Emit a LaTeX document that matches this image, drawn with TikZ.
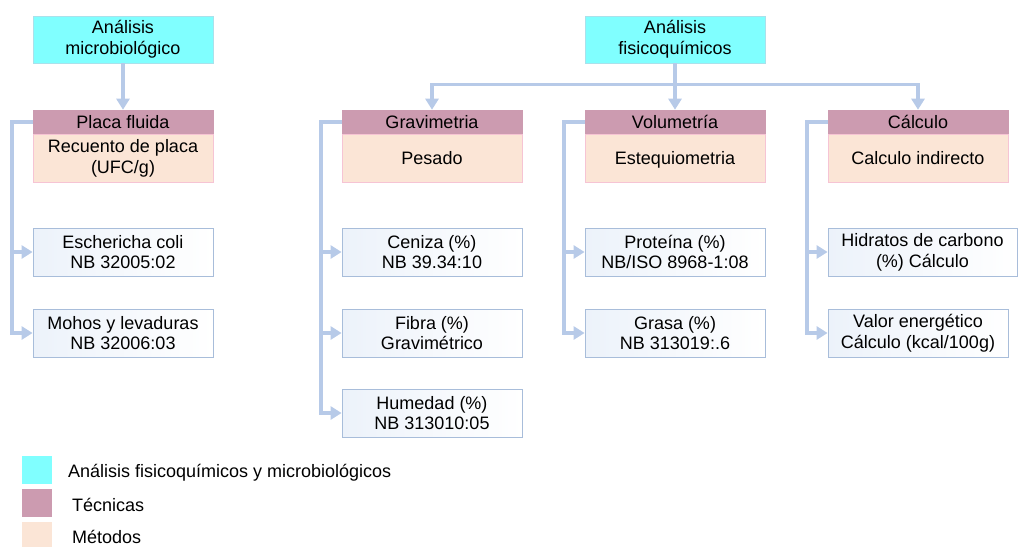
\documentclass[tikz,border=0pt]{standalone}
\usepackage{fontspec}
\setmainfont{Liberation Sans}
\usetikzlibrary{arrows.meta}
\definecolor{cyanbox}{RGB}{128,255,255}
\definecolor{cyanborder}{RGB}{170,225,235}
\definecolor{tecfill}{RGB}{204,155,176}
\definecolor{metfill}{RGB}{251,229,214}
\definecolor{metborder}{RGB}{246,196,212}
\definecolor{childborder}{RGB}{168,189,218}
\definecolor{childtint}{RGB}{236,242,250}
\definecolor{conncol}{RGB}{183,202,232}
\tikzset{
  base/.style={inner sep=0pt, align=center, font=\fontsize{18}{20.7}\selectfont, text=black},
  analysis/.style={base, fill=cyanbox, draw=cyanborder, line width=0.8pt, minimum width=180pt, minimum height=47pt},
  tecnica/.style={base, fill=tecfill, draw=tecfill, line width=0.6pt, minimum width=180pt, minimum height=24pt},
  metodo/.style={base, fill=metfill, draw=metborder, line width=0.8pt, minimum width=180pt, minimum height=48pt},
  child/.style={base, left color=childtint, right color=white, draw=childborder, line width=0.8pt, minimum width=180pt, minimum height=48pt},
  conn/.style={draw=conncol, line width=3.6pt, line join=miter, -{Triangle[length=11pt,width=13pt]}},
  legsq/.style={minimum width=30pt, minimum height=28pt, inner sep=0pt},
  legtxt/.style={base, anchor=west}
}
\begin{document}
\begin{tikzpicture}[x=1pt,y=-1pt]
\useasboundingbox (0,0) rectangle (1019,546);
\clip (0,0) rectangle (1019,546);
% top-level analyses
\node[analysis] (mic) at (123,39.5) {Análisis\\microbiológico};
\node[analysis] (fq) at (675,39.5) {Análisis\\fisicoquímicos};
% techniques
\node[tecnica] (t1) at (123,122) {Placa fluida};
\node[tecnica] (t2) at (432,122) {Gravimetria};
\node[tecnica] (t3) at (675,122) {Volumetría};
\node[tecnica] (t4) at (918,122) {Cálculo};
% methods
\node[metodo] (m1) at (123,158) {Recuento de placa\\(UFC/g)};
\node[metodo] (m2) at (432,158) {Pesado};
\node[metodo] (m3) at (675,158) {};
\node[base] (m3t) at ([yshift=-2pt]m3.center) {Estequiometria};
\node[metodo] (m4) at (918,158) {Calculo indirecto};
% children
\node[child] (c11) at (123,252) {Eschericha coli\\NB 32005:02};
\node[child] (c12) at (123,333) {Mohos y levaduras\\NB 32006:03};
\node[child] (c21) at (432,252) {Ceniza (\%)\\NB 39.34:10};
\node[child] (c22) at (432,333) {Fibra (\%)\\Gravimétrico};
\node[child] (c23) at (432,413) {Humedad (\%)\\NB 313010:05};
\node[child] (c31) at (675,252) {Proteína (\%)\\NB/ISO 8968-1:08};
\node[child] (c32) at (675,333) {Grasa (\%)\\NB 313019:.6};
\node[child, minimum width=189pt] (c41) at (922.5,252) {Hidratos de carbono\\(\%) Cálculo};
\node[child] (c42) at (918,333) {Valor energético\\Cálculo (kcal/100g)};
% connectors from analyses
\draw[conn] (mic.south) -- (t1.north);
\draw[conn] (fq.south) -- (t3.north);
\draw[conn] (fq.south) -- ++(0,21) -| (t2.north);
\draw[conn] (fq.south) -- ++(0,21) -| (t4.north);
% branch connectors
\draw[conn] (t1.west) -- ++(-21,0) |- (c11.west);
\draw[conn] (t1.west) -- ++(-21,0) |- (c12.west);
\draw[conn] (t2.west) -- ++(-21,0) |- (c21.west);
\draw[conn] (t2.west) -- ++(-21,0) |- (c22.west);
\draw[conn] (t2.west) -- ++(-21,0) |- (c23.west);
\draw[conn] (t3.west) -- ++(-21,0) |- (c31.west);
\draw[conn] (t3.west) -- ++(-21,0) |- (c32.west);
\draw[conn] (t4.west) -- ++(-21,0) |- (c41.west);
\draw[conn] (t4.west) -- ++(-21,0) |- (c42.west);
% legend
\node[legsq, fill=cyanbox] (l1) at (37,470) {};
\node[legsq, fill=tecfill] (l2) at (37,503) {};
\node[legsq, fill=metfill] (l3) at (37,536) {};
\node[legtxt] (lt1) at (68,473) {Análisis fisicoquímicos y microbiológicos};
\node[legtxt] (lt2) at (72,505) {Técnicas};
\node[legtxt] (lt3) at (72,537) {Métodos};
\end{tikzpicture}
\end{document}
